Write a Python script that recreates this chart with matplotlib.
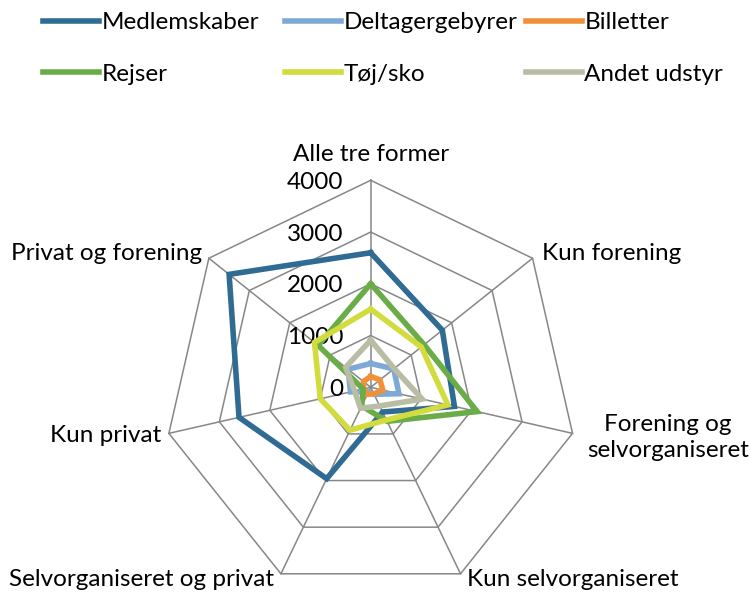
import numpy as np
import matplotlib
matplotlib.use("Agg")
import matplotlib.pyplot as plt

plt.rcParams['font.family'] = ['Lato', 'DejaVu Sans']

categories = ["Alle tre former", "Kun forening", "Forening og\nselvorganiseret",
              "Kun selvorganiseret", "Selvorganiseret og privat", "Kun privat",
              "Privat og forening"]
series_names = ["Medlemskaber", "Deltagergebyrer", "Billetter",
                "Rejser", "Tøj/sko", "Andet udstyr"]
medlemskaber = [2600, 1770, 1660, 530, 1960, 2610, 3500]
deltagergebyrer = [460, 570, 560, 150, 100, 400, 560]
billetter = [210, 230, 240, 140, 150, 140, 180]
rejser = [2000, 1320, 2110, 730, 400, 150, 1300]
toej_sko = [1510, 1250, 1530, 700, 920, 1000, 1390]
andet_udstyr = [910, 580, 1020, 400, 450, 320, 620]
radial_ticks = [0, 1000, 2000, 3000, 4000]

colors = ["#2F6B92", "#7EA9D6", "#F0913A", "#6AAC47", "#D3DC3E", "#B9BDA4"]
values = [medlemskaber, deltagergebyrer, billetter, rejser, toej_sko, andet_udstyr]

W, H, DPI = 751, 593, 100
fig = plt.figure(figsize=(W / DPI, H / DPI), dpi=DPI)

cx, cy, R = 370.7, 387.3, 207.0  # pixel centre (from top) and radius
ax = fig.add_axes([(cx - R) / W, (H - cy - R) / H, 2 * R / W, 2 * R / H], projection='polar')
ax.set_theta_zero_location('N')
ax.set_theta_direction(-1)
ax.set_ylim(0, 4000)
ax.set_xticks([])
ax.set_yticks([])
ax.grid(False)
ax.spines['polar'].set_visible(False)
ax.patch.set_alpha(0)

n = len(categories)
theta = np.arange(n) * 2 * np.pi / n
theta_c = np.append(theta, theta[0])

grid_col = "#878787"
for lv in radial_ticks[1:]:
    ax.plot(theta_c, [lv] * (n + 1), color=grid_col, lw=1.1, zorder=1, clip_on=False)
for t in theta:
    ax.plot([t, t], [0, radial_ticks[-1]], color=grid_col, lw=1.1, zorder=1, clip_on=False)

lines = []
for name, vals, col in zip(series_names, values, colors):
    v = list(vals) + [vals[0]]
    ln, = ax.plot(theta_c, v, color=col, lw=4.0, label=name, zorder=3,
                  solid_joinstyle='miter', clip_on=False)
    lines.append(ln)

FS = 17.5
px = 72.0 / DPI

def off(dx, dy):
    return (dx * px, -dy * px)

for lv in radial_ticks:
    ax.annotate(str(lv), xy=(0, lv), xytext=off(-27, 8.5), textcoords='offset points',
                ha='right', va='baseline', fontsize=FS, color='black', zorder=2)

label_spec = [
    ('center', (0, -19.3)),
    ('left', (9.5, 1.8)),
    ('center', (95.5, 23.3)),
    ('left', (6.5, 11.7)),
    ('right', (-7, 11.7)),
    ('right', (-8, 8.6)),
    ('right', (-6.7, 1.8)),
]
for t, lab, (ha, (dx, dy)) in zip(theta, categories, label_spec):
    ax.annotate(lab, xy=(t, radial_ticks[-1]), xytext=off(dx, dy), textcoords='offset points',
                ha=ha, va='baseline', fontsize=FS, color='black', multialignment='center',
                linespacing=1.25, annotation_clip=False)

col_x = [43, 285, 526]
for i, x0 in enumerate(col_x):
    hs = [lines[i], lines[i + 3]]
    fig.legend(handles=hs, labels=[h.get_label() for h in hs], loc='upper left',
               bbox_to_anchor=(x0 / W, 1 - 12 / H), frameon=False, fontsize=FS,
               borderpad=0, borderaxespad=0, handlelength=56 / (FS / px),
               handletextpad=0.1, labelspacing=1.27)

fig.savefig("out.png", dpi=DPI)
